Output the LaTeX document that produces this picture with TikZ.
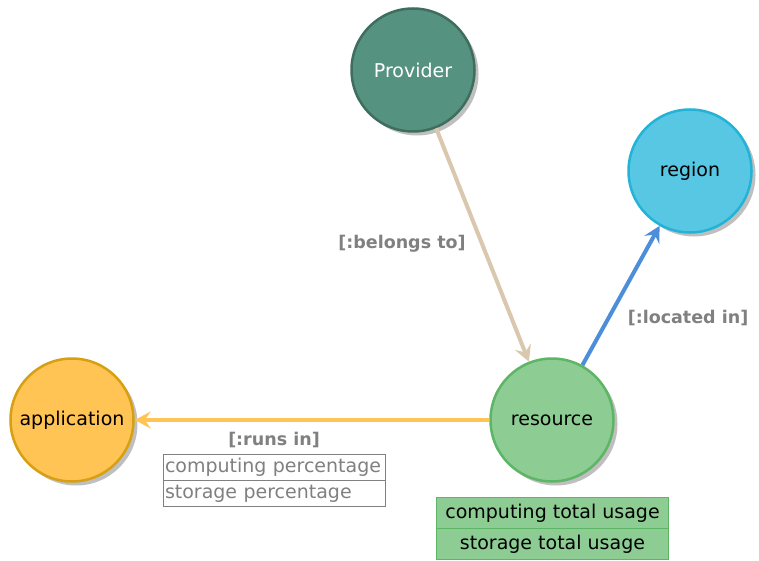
\documentclass[tikz,border=0pt]{standalone}
\usepackage{fontspec}
\setmainfont{DejaVu Sans}
\usetikzlibrary{shadows,arrows.meta}
\definecolor{provfill}{HTML}{559380}
\definecolor{provline}{HTML}{3F6E5E}
\definecolor{regfill}{HTML}{57C7E3}
\definecolor{regline}{HTML}{23B3D7}
\definecolor{resfill}{HTML}{8DCC93}
\definecolor{resline}{HTML}{5DB665}
\definecolor{appfill}{HTML}{FFC454}
\definecolor{appline}{HTML}{D7A013}
\definecolor{tan}{HTML}{D9C8AE}
\definecolor{relblue}{HTML}{4C8EDA}
\definecolor{relorange}{HTML}{FFC454}
\definecolor{labgray}{HTML}{808080}
\tikzset{
  entity/.style={circle, minimum size=123pt, inner sep=0pt, line width=2.5pt,
    font=\fontsize{19}{22}\selectfont,
    drop shadow={shadow xshift=4pt, shadow yshift=-4pt, fill=black!25, opacity=1}},
  rel/.style={line width=4pt, -{Stealth[length=16pt, width=17pt, inset=6pt]}},
  rellabel/.style={font=\bfseries\fontsize{17.5}{20}\selectfont, text=labgray},
  proprow/.style={draw=labgray, line width=1pt, minimum width=222pt, minimum height=26pt,
    inner sep=1.5pt, text=labgray, font=\fontsize{19}{22}\selectfont, align=left},
  totrow/.style={draw=resline, fill=resfill, line width=1pt, minimum width=232pt,
    minimum height=31pt, inner sep=2pt, font=\fontsize{19}{22}\selectfont},
}
\begin{document}
\begin{tikzpicture}[x=1pt, y=-1pt]
\useasboundingbox[fill=white] (0,0) rectangle (759,561);

% entities
\node[entity, fill=provfill, draw=provline, text=white] (provider) at (413,70) {Provider};
\node[entity, fill=regfill, draw=regline] (region) at (690,171) {region};
\node[entity, fill=resfill, draw=resline] (resource) at (552,420) {resource};
\node[entity, fill=appfill, draw=appline] (application) at (72,420) {application};

% relationships
\draw[rel, draw=tan, fill=tan] (provider) -- (resource);
\draw[rel, draw=relblue, fill=relblue] (resource) -- (region);
\draw[rel, draw=relorange, fill=relorange] (resource) -- (application);

% relationship labels
\node[rellabel] (lbelongs) at (402,244) {[:belongs to]};
\node[rellabel] (llocated) at (688,318) {[:located in]};
\node[rellabel] (lruns) at (274,440) {[:runs in]};

% properties of runs in
\node[proprow, anchor=north west, text width=219pt] (pcomp) at (163,454) {computing percentage};
\node[proprow, anchor=north west, text width=219pt] (pstor) at (163,480) {storage percentage};

% properties of resource
\node[totrow, anchor=north west] (tcomp) at (436,497) {computing total usage};
\node[totrow, anchor=north west] (tstor) at (436,528) {storage total usage};
\end{tikzpicture}
\end{document}
